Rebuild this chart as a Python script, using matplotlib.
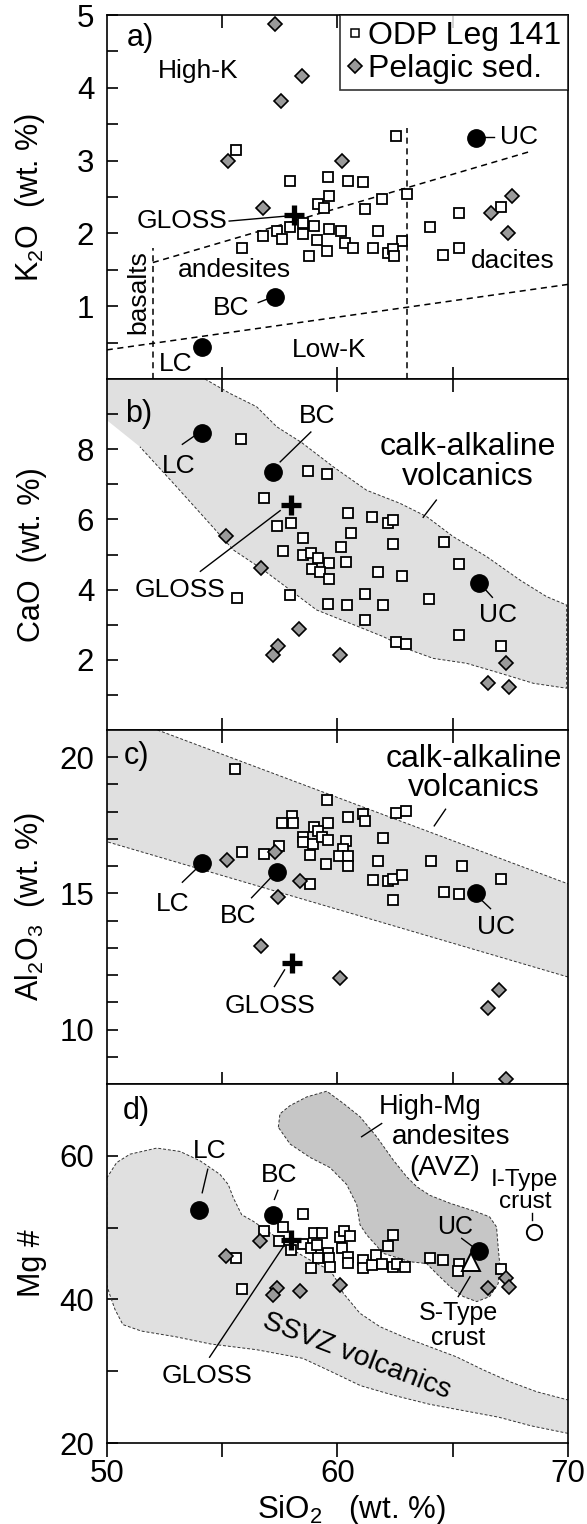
import matplotlib
matplotlib.use("Agg")
import matplotlib.pyplot as plt
from matplotlib.lines import Line2D

plt.rcParams['font.family'] = ['Liberation Sans', 'DejaVu Sans']
plt.rcParams['mathtext.fontset'] = 'custom'
plt.rcParams['mathtext.rm'] = 'Liberation Sans'
plt.rcParams['mathtext.it'] = 'Liberation Sans:italic'
plt.rcParams['axes.linewidth'] = 1.2

# ---------------- data ----------------
# panel a: K2O
a_sq_x = [55.6, 62.55, 57.95, 59.6, 60.44, 61.12, 59.63, 61.93, 63.04, 59.17, 59.42, 61.2, 65.26, 67.09,
          57.39, 57.95, 58.49, 56.79, 57.6, 58.49, 58.98, 59.63, 59.1, 60.15, 60.32, 60.66, 61.74, 62.79,
          61.53, 62.18, 62.4, 62.45, 59.53, 58.77, 55.88, 64.0, 64.6, 65.26]
a_sq_y = [3.15, 3.34, 2.72, 2.78, 2.72, 2.70, 2.51, 2.47, 2.54, 2.40, 2.35, 2.33, 2.28, 2.36,
          2.03, 2.09, 2.15, 1.96, 1.93, 1.99, 2.10, 2.06, 1.91, 2.03, 1.87, 1.80, 2.04, 1.90,
          1.80, 1.73, 1.78, 1.69, 1.76, 1.69, 1.80, 2.09, 1.71, 1.80]
a_dia_x = [57.3, 58.47, 57.55, 55.24, 60.19, 56.77, 66.67, 67.58, 67.4]
a_dia_y = [4.88, 4.17, 3.82, 2.99, 2.99, 2.35, 2.28, 2.51, 2.01]
a_crust = {'UC': (66.02, 3.31), 'BC': (57.3, 1.12), 'LC': (54.14, 0.44)}
a_gloss = (58.1, 2.25)
a_hk_line = ([52.0, 68.4], [1.6, 3.13])
a_lk_line = ([50.0, 70.0], [0.40, 1.30])
a_basalt_line = ([52.0, 52.0], [0.0, 1.8])
a_dacite_line = ([63.0, 63.0], [0.0, 3.45])

# panel b: CaO
b_sq_x = [55.84, 58.72, 59.55, 56.82, 57.39, 58.0, 60.47, 61.49, 62.18, 62.42, 60.58, 58.52, 64.61, 62.42,
          57.63, 58.49, 58.85, 59.14, 59.63, 60.15, 60.39, 65.26, 58.9, 59.25, 59.63, 61.77, 62.78, 55.63,
          57.95, 59.58, 60.42, 61.2, 61.96, 63.96, 61.2, 62.55, 62.99, 65.29, 67.08]
b_sq_y = [8.28, 7.38, 7.29, 6.62, 5.81, 5.89, 6.19, 6.08, 5.91, 5.98, 5.61, 5.46, 5.37, 5.29,
          5.09, 4.99, 5.04, 4.90, 4.77, 5.2, 4.78, 4.74, 4.58, 4.50, 4.31, 4.49, 4.40, 3.76,
          3.84, 3.59, 3.55, 3.88, 3.55, 3.73, 3.12, 2.50, 2.46, 2.72, 2.39]
b_dia_x = [55.19, 56.69, 58.33, 57.44, 57.21, 60.11, 67.29, 66.51, 67.42]
b_dia_y = [5.54, 4.61, 2.89, 2.39, 2.15, 2.13, 1.92, 1.33, 1.23]
b_crust = {'UC': (66.12, 4.19), 'BC': (57.22, 7.36), 'LC': (54.14, 8.47)}
b_gloss = (58.0, 6.41)
b_field_x = [50.0, 54.26, 55.34, 56.5, 57.37, 58.45, 59.82, 61.27, 62.71, 63.87, 65.02, 66.47, 67.92, 69.07, 69.94,
             69.94, 68.5, 67.05, 65.6, 64.16, 63.15, 61.99, 60.55, 59.1, 57.95, 56.79, 55.49, 54.33, 52.89, 51.44, 50.0]
b_field_y = [10.0, 10.0, 9.59, 9.21, 8.64, 8.19, 7.5, 6.83, 6.46, 6.08, 5.51, 4.94, 4.27, 3.8, 3.56,
             1.19, 1.33, 1.62, 1.9, 2.04, 2.28, 2.66, 3.04, 3.42, 3.99, 4.56, 5.13, 5.98, 7.03, 8.07, 8.83]

# panel c: Al2O3
c_sq_x = [55.57, 59.55, 62.55, 62.99, 61.12, 61.2, 60.44, 58.04, 57.58, 58.07, 58.98, 59.59, 59.17, 58.52,
          58.49, 58.93, 59.33, 59.6, 60.39, 60.23, 61.96, 57.47, 55.88, 56.82, 58.81, 60.06, 60.47, 59.5,
          60.44, 61.77, 64.04, 65.42, 61.53, 58.81, 62.18, 62.42, 62.82, 62.42, 64.61, 65.26, 67.08]
c_sq_y = [19.55, 18.42, 17.97, 18.03, 17.93, 17.66, 17.81, 17.85, 17.60, 17.60, 17.45, 17.60, 17.30, 17.06,
          16.87, 16.81, 17.06, 16.96, 16.93, 16.63, 17.03, 16.75, 16.53, 16.45, 16.42, 16.39, 16.39, 16.08,
          16.02, 16.2, 16.2, 15.99, 15.5, 15.33, 15.44, 15.54, 15.66, 14.74, 15.05, 14.99, 15.54]
c_dia_x = [55.23, 57.3, 58.36, 57.44, 56.69, 60.11, 67.01, 66.51, 67.29]
c_dia_y = [16.24, 16.53, 15.47, 14.87, 13.08, 11.89, 11.44, 10.79, 8.20]
c_crust = {'UC': (66.02, 15.01), 'BC': (57.39, 15.80), 'LC': (54.14, 16.11)}
c_gloss = (58.04, 12.46)
c_field_x = [50.0, 52.2, 70.0, 70.0, 50.0]
c_field_y = [21.0, 21.0, 15.35, 11.93, 16.9]

# panel d: Mg#
d_sq_x = [58.5, 56.82, 57.66, 57.47, 58.0, 58.52, 58.85, 59.0, 59.35, 59.1, 59.58, 59.17, 59.63, 59.66,
          58.85, 60.11, 60.3, 60.54, 60.21, 60.47, 60.44, 61.12, 61.12, 61.49, 61.69, 61.93, 62.18, 62.42,
          62.42, 62.58, 62.95, 55.6, 55.88, 64.01, 64.58, 65.26, 65.23, 67.08]
d_sq_y = [51.96, 49.49, 50.05, 48.18, 46.92, 47.76, 47.15, 49.25, 49.25, 47.62, 46.45, 45.84, 45.84, 44.58,
          44.44, 48.64, 49.49, 48.78, 47.15, 45.98, 45.05, 45.51, 44.44, 44.81, 46.21, 44.91, 47.38, 48.93,
          44.58, 44.91, 44.58, 45.75, 41.45, 45.84, 45.51, 44.95, 44.02, 44.25]
d_dia_x = [55.16, 56.66, 57.39, 57.19, 58.36, 60.11, 66.51, 67.29, 67.45]
d_dia_y = [46.12, 48.18, 41.54, 40.6, 41.21, 42.0, 41.54, 42.94, 41.78]
d_crust = {'UC': (66.15, 46.7), 'BC': (57.19, 51.82), 'LC': (53.99, 52.52)}
d_gloss = (58.0, 48.32)
d_itype = (68.52, 49.4)
d_stype = (65.79, 45.2)
d_ssvz_x = [50.0, 50.43, 51.01, 52.17, 53.18, 54.05, 54.91, 55.27, 55.49, 55.85, 56.36, 57.2, 57.95, 58.82,
            59.68, 60.0, 60.26, 60.98, 61.85, 62.86, 64.01, 65.17, 66.32, 67.48, 68.64, 70.0,
            70.0, 68.4, 67.0, 65.5, 64.0, 62.5, 61.0, 59.7, 58.5, 56.5, 54.5, 53.0, 51.5, 50.7, 50.36, 50.15, 50.0]
d_ssvz_y = [56.9, 59.06, 60.23, 61.08, 60.61, 59.3, 57.42, 56.0, 54.15, 51.8, 50.87, 49.0, 47.12, 45.48,
            44.07, 42.5, 40.85, 38.07, 36.2, 34.8, 33.4, 32.0, 30.2, 28.54, 27.15, 26.0,
            21.35, 22.4, 23.6, 24.5, 25.4, 26.6, 28.0, 30.0, 31.8, 33.0, 33.8, 34.8, 35.6, 36.5, 38.6, 40.5, 42.0]
d_hmg_x = [57.44, 57.51, 57.95, 58.67, 59.54, 60.26, 60.98, 61.7, 62.42, 63.0, 63.44, 64.01, 64.88, 66.04,
           66.6, 66.9, 66.97, 67.05, 66.97, 66.6, 66.04, 65.46, 64.88, 64.3, 63.87, 63.15, 61.99, 61.27,
           60.98, 60.84, 60.4, 59.68, 58.82, 57.95]
d_hmg_y = [63.98, 65.85, 67.0, 68.2, 69.0, 67.3, 65.45, 62.67, 59.42, 57.1, 55.7, 54.5, 53.4, 52.2,
           51.5, 50.1, 47.3, 44.55, 42.2, 40.4, 39.7, 40.4, 41.8, 43.6, 45.0, 45.25, 46.42, 49.0,
           50.4, 53.2, 56.02, 58.36, 59.77, 61.64]

# axis settings
ylabels = ['K$_2$O  (wt. %)', 'CaO  (wt. %)', 'Al$_2$O$_3$  (wt. %)', 'Mg #']
ylims = [(0, 5), (0, 10), (8, 21), (20, 70)]
ymajor = [[1, 2, 3, 4, 5], [2, 4, 6, 8], [10, 15, 20], [20, 40, 60]]
yminor = [[0.5, 1.5, 2.5, 3.5, 4.5], [1, 3, 5, 7, 9], [9, 11, 12, 13, 14, 16, 17, 18, 19], [30, 50]]

# ---------------- style ----------------
SQ = dict(marker='s', ms=7.6, mfc='white', mec='black', mew=1.3, ls='none', zorder=4)
DI = dict(marker='D', ms=7.4, mfc='#9a9a9a', mec='black', mew=1.2, ls='none', zorder=5)
CI = dict(marker='o', ms=12.5, mfc='black', mec='black', ls='none', zorder=6)
GL = dict(marker='+', ms=15, mec='black', mew=3.8, ls='none', zorder=7)
LIGHT = '#e0e0e0'
DARK = '#c6c6c6'
EDGE = dict(color='#333333', lw=0.7, ls=(0, (3, 2)))
FS_T = 19
FS_TICK = 22.5
FS_CALK = 23

fig = plt.figure(figsize=(5.87, 15.24), dpi=100)
L, W = 0.1818, 0.7859
rects = [(0.7513, 0.2388), (0.5210, 0.2303), (0.2887, 0.2323), (0.0531, 0.2356)]
axes = [fig.add_axes([L, b, W, h]) for b, h in rects]

for i, ax in enumerate(axes):
    ax.set_xlim(50, 70)
    ax.set_ylim(*ylims[i])
    ax.set_yticks(ymajor[i])
    ax.set_yticks(yminor[i], minor=True)
    ax.tick_params(axis='y', which='both', direction='in', length=8, width=1.2,
                   labelsize=FS_TICK, pad=9)
    ax.set_ylabel(ylabels[i], fontsize=22)
    ax.yaxis.set_label_coords(-0.13, 0.5)
    if i < 3:
        ax.set_xticks([55, 60, 65])
        ax.tick_params(axis='x', which='both', direction='in', length=9, width=1.2,
                       top=True, bottom=True, labelbottom=False)
    else:
        ax.set_xticks([50, 60, 70])
        ax.set_xticks([55, 65], minor=True)
        ax.tick_params(axis='x', which='both', direction='out', length=10, width=1.2,
                       labelsize=FS_TICK, pad=1.5)
        ax.set_xlabel('SiO$_2$   (wt. %)', fontsize=22.5)
        ax.xaxis.set_label_coords(0.53, -0.138)


def lead(ax, x0, y0, x1, y1):
    ax.plot([x0, x1], [y0, y1], color='black', lw=1.0, zorder=3)


def txt(ax, x, y, s, fs=FS_T, **kw):
    ax.text(x, y, s, fontsize=fs, ha='center', va='center', zorder=8, **kw)


# ---- panel a ----
ax = axes[0]
for xs, ys in (a_hk_line, a_lk_line, a_basalt_line, a_dacite_line):
    ax.plot(xs, ys, color='black', lw=1.1, ls=(0, (4, 3)), zorder=2)
ax.plot(a_sq_x, a_sq_y, **SQ)
ax.plot(a_dia_x, a_dia_y, **DI)
ax.plot([v[0] for v in a_crust.values()], [v[1] for v in a_crust.values()], **CI)
ax.plot([a_gloss[0]], [a_gloss[1]], **GL)
txt(ax, 51.46, 4.69, 'a)', 22)
txt(ax, 53.98, 4.23, 'High-K')
txt(ax, 53.25, 2.17, 'GLOSS')
lead(ax, 55.31, 2.17, 57.84, 2.24)
txt(ax, 55.52, 1.5, 'andesites')
txt(ax, 51.35, 1.2, 'basalts', rotation=90)
txt(ax, 55.39, 0.98, 'BC')
lead(ax, 56.57, 1.05, 57.14, 1.12)
txt(ax, 53.0, 0.2, 'LC')
txt(ax, 59.66, 0.40, 'Low-K')
txt(ax, 67.61, 1.62, 'dacites')
txt(ax, 67.86, 3.32, 'UC')
lead(ax, 66.31, 3.32, 66.8, 3.32)
h1 = Line2D([], [], marker='s', ms=6, mfc='white', mec='black', mew=1.1, ls='none')
h2 = Line2D([], [], marker='D', ms=7, mfc='#9a9a9a', mec='black', mew=1.2, ls='none')
leg = ax.legend([h1, h2], ['ODP Leg 141', 'Pelagic sed.'], loc='upper right', fontsize=23,
                frameon=True, fancybox=False, borderaxespad=0, borderpad=0.2,
                handlelength=0.5, handletextpad=0.18, labelspacing=0.08)
leg.get_frame().set_edgecolor('black')
leg.get_frame().set_linewidth(1.2)

# ---- panel b ----
ax = axes[1]
ax.fill(b_field_x, b_field_y, color=LIGHT, zorder=1, lw=0)
ax.plot(b_field_x[1:-1], b_field_y[1:-1], **EDGE, zorder=2)
ax.plot(b_sq_x, b_sq_y, **SQ)
ax.plot(b_dia_x, b_dia_y, **DI)
ax.plot([v[0] for v in b_crust.values()], [v[1] for v in b_crust.values()], **CI)
ax.plot([b_gloss[0]], [b_gloss[1]], **GL)
txt(ax, 51.38, 9.01, 'b)', 22)
txt(ax, 53.13, 7.53, 'LC')
lead(ax, 53.28, 8.14, 53.85, 8.4)
txt(ax, 59.14, 8.95, 'BC')
lead(ax, 57.52, 7.64, 58.85, 8.49)
txt(ax, 65.67, 8.07, 'calk-alkaline', FS_CALK)
txt(ax, 65.67, 7.2, 'volcanics', FS_CALK)
lead(ax, 63.72, 6.06, 64.29, 6.55)
txt(ax, 53.17, 4.0, 'GLOSS')
lead(ax, 54.06, 4.52, 57.52, 6.25)
txt(ax, 66.96, 3.29, 'UC')
lead(ax, 66.35, 4.05, 66.72, 3.78)

# ---- panel c ----
ax = axes[2]
ax.fill(c_field_x, c_field_y, color=LIGHT, zorder=1, lw=0)
ax.plot(c_field_x[1:3], c_field_y[1:3], **EDGE, zorder=2)
ax.plot(c_field_x[3:5], c_field_y[3:5], **EDGE, zorder=2)
ax.plot(c_sq_x, c_sq_y, **SQ)
ax.plot(c_dia_x, c_dia_y, **DI)
ax.plot([v[0] for v in c_crust.values()], [v[1] for v in c_crust.values()], **CI)
ax.plot([c_gloss[0]], [c_gloss[1]], **GL)
txt(ax, 51.3, 20.04, 'c)', 22)
txt(ax, 65.9, 19.95, 'calk-alkaline', FS_CALK)
txt(ax, 65.9, 18.88, 'volcanics', FS_CALK)
lead(ax, 64.2, 17.48, 64.69, 18.09)
txt(ax, 52.84, 14.62, 'LC')
lead(ax, 53.28, 15.41, 53.93, 15.94)
txt(ax, 55.68, 14.16, 'BC')
lead(ax, 56.28, 14.84, 57.14, 15.6)
txt(ax, 66.88, 13.77, 'UC')
lead(ax, 66.23, 14.77, 66.64, 14.44)
txt(ax, 57.09, 10.85, 'GLOSS')
lead(ax, 57.27, 11.58, 57.71, 12.19)

# ---- panel d ----
ax = axes[3]
ax.fill(d_ssvz_x, d_ssvz_y, color=LIGHT, zorder=1, lw=0)
ax.plot(d_ssvz_x[:26], d_ssvz_y[:26], **EDGE, zorder=2)
ax.plot(d_ssvz_x[26:] + [d_ssvz_x[0]], d_ssvz_y[26:] + [d_ssvz_y[0]], **EDGE, zorder=2)
ax.fill(d_hmg_x, d_hmg_y, color=DARK, zorder=1.5, lw=0)
ax.plot(d_hmg_x + [d_hmg_x[0]], d_hmg_y + [d_hmg_y[0]], **EDGE, zorder=2)
ax.plot(d_sq_x, d_sq_y, **SQ)
ax.plot(d_dia_x, d_dia_y, **DI)
ax.plot([v[0] for v in d_crust.values()], [v[1] for v in d_crust.values()], **CI)
ax.plot([d_gloss[0]], [d_gloss[1]], **GL)
ax.plot([d_itype[0]], [d_itype[1]], marker='o', ms=11, mfc='white', mec='black', mew=1.4, ls='none', zorder=6)
ax.plot([d_stype[0]], [d_stype[1]], marker='^', ms=13, mfc='white', mec='black', mew=1.4, ls='none', zorder=6)
txt(ax, 51.3, 66.3, 'd)', 22)
txt(ax, 54.46, 60.7, 'LC')
lead(ax, 54.14, 54.86, 54.38, 58.13)
txt(ax, 57.47, 57.34, 'BC')
lead(ax, 57.27, 53.93, 57.42, 55.19)
txt(ax, 54.35, 29.4, 'GLOSS')
lead(ax, 54.46, 31.96, 57.71, 47.62)
txt(ax, 64.01, 66.84, 'High-Mg', 19.5)
txt(ax, 64.95, 62.66, 'andesites', 20)
txt(ax, 64.66, 58.24, '(AVZ)', 20)
lead(ax, 61.05, 62.66, 61.92, 64.5)
txt(ax, 68.13, 56.63, 'I-Type', 17.5)
txt(ax, 68.13, 53.6, 'crust', 17.5)
lead(ax, 68.42, 52.0, 68.42, 51.1)
txt(ax, 65.1, 50.12, 'UC', 18)
lead(ax, 65.39, 48.5, 65.89, 47.3)
txt(ax, 65.24, 38.07, 'S-Type', 18)
txt(ax, 65.24, 34.6, 'crust', 18)
lead(ax, 65.24, 40.4, 65.75, 43.16)
txt(ax, 60.84, 32.13, 'SSVZ volcanics', 20.5, rotation=-21)

fig.savefig('out.png', dpi=100)
